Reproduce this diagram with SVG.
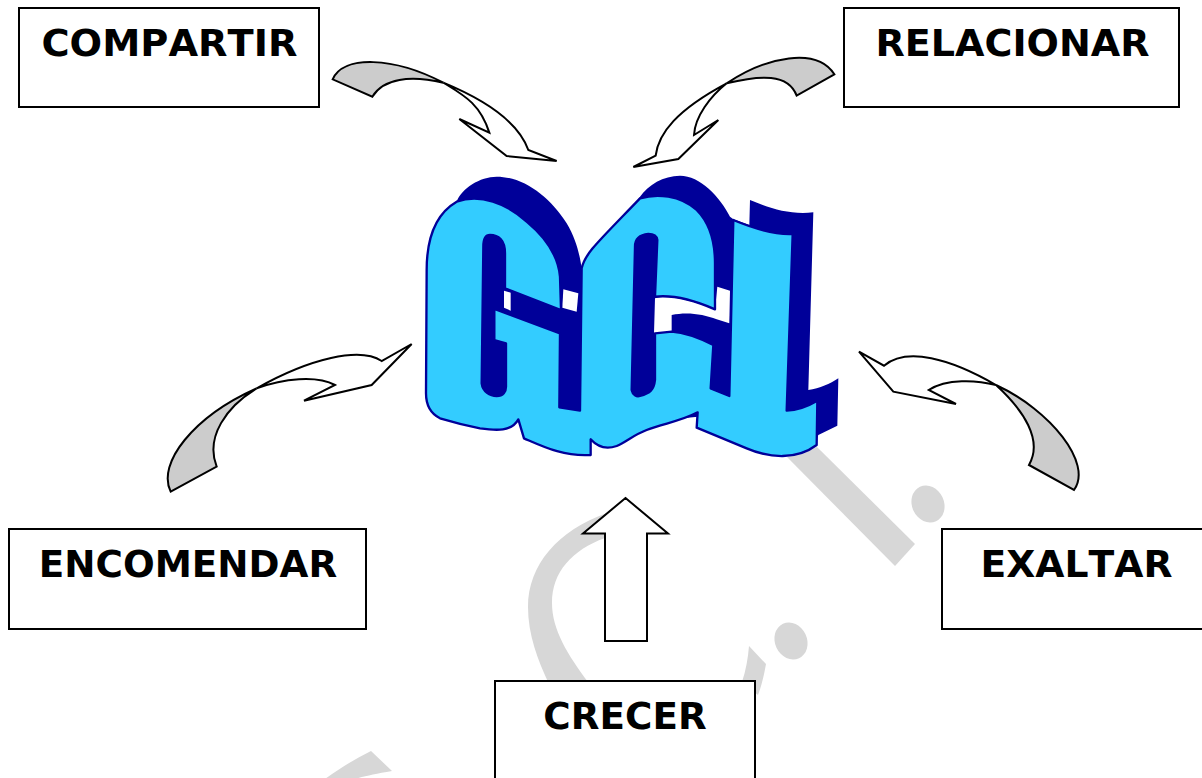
<svg xmlns="http://www.w3.org/2000/svg" width="1202" height="778" viewBox="0 0 1202 778">
<style>
.box{fill:#fff;stroke:#000;stroke-width:2}
.lbl{font-family:"DejaVu Sans",sans-serif;font-weight:700;font-size:37.33px;fill:#000;text-anchor:middle;font-kerning:none}
.wm{fill:#d7d7d7}
.tail{fill:#ccc;stroke:#000;stroke-width:6;stroke-linejoin:miter}
.head{fill:#fff;stroke:#000;stroke-width:6;stroke-linejoin:miter}
</style>
<rect width="1202" height="778" fill="#fff"/>
<g id="watermark">
<path class="wm" d="M787,457L817,447L915,544L895,566Z"/>
<ellipse class="wm" cx="928" cy="504" rx="16" ry="19" transform="rotate(-25 928 504)"/>
<ellipse class="wm" cx="791" cy="641" rx="16" ry="19" transform="rotate(-25 791 641)"/>
<path class="wm" d="M607,513C558,530 528,565 528,607C528,635 538,660 548,682L588,682C568,655 552,630 552,603C552,572 572,550 605,538Z"/>
<path class="wm" d="M749,646L766,664C764,675 762,684 758,695L742,682C746,670 748,658 749,646Z"/>
<path class="wm" d="M371,751L392,771C375,774 365,776 355,779L325,779C340,768 355,759 371,751Z"/>
</g>
<g id="gcl" transform="translate(400 160) scale(.33333)">
<path fill="#009" d="M170,125C185,85 240,50 290,50C370,50 450,110 500,190C530,240 540,290 545,325C590,240 680,170 720,110C745,75 790,47 840,47C900,47 960,110 990,170L1000,178L1048,195L1050,120C1110,145 1170,165 1240,157L1225,690C1260,685 1290,672 1315,655L1312,797L1255,825L1245,850L1000,800L893,770L700,790L540,760L230,700L230,240Z"/>
<path fill="#fff" d="M312,392L332,398L332,452L312,443Z"/>
<path fill="#fff" d="M490,388L535,400L530,455L487,443Z"/>
<path fill="#fff" d="M765,415C800,405 850,412 945,448L952,380L990,392L988,490L950,478C910,462 860,455 815,465L815,515L762,520Z"/>
<path fill="#3cf" stroke="#009" stroke-width="7" stroke-linejoin="round" d="M80,330C80,230 110,160 170,125C240,100 320,130 380,185C440,235 475,290 480,350L483,450L315,385L315,280C315,240 295,225 270,225C255,225 250,240 250,260L245,670C248,695 270,708 290,708C310,708 318,695 318,680L318,550L283,540L283,447L480,520L478,742L540,752L545,325C555,280 590,250 720,115C770,100 840,105 890,150C930,190 945,250 945,310L945,448C870,415 810,405 765,410L772,240C770,225 755,222 745,222C715,225 705,240 705,260L695,690C698,705 710,712 720,708C750,700 762,690 765,660L765,520L815,515C860,518 900,535 940,555L932,685L988,708L1000,180C1060,205 1120,225 1178,222L1160,752C1195,750 1225,738 1252,722L1250,855C1190,900 1110,895 1040,865L890,803L893,757C840,785 790,790 740,810C700,825 680,845 650,858C615,870 590,858 572,838L572,885C490,890 430,860 372,835L355,778C335,815 290,812 240,805C200,797 160,787 120,775C90,760 78,730 78,700Z"/>
</g>
<g id="connectors">
<g transform="translate(320 40) scale(.33333)">
<path class="head" d="M370,128C520,190 600,260 625,330L710,363L560,348L418,237L508,278C480,190 430,165 370,128Z"/>
<path class="tail" d="M38,118C70,45 220,50 370,128C270,105 190,115 157,170Z"/>
</g>
<g transform="translate(620 40) scale(.33333)">
<path class="head" d="M320,130C170,210 115,280 107,347L40,381L175,357L295,240L222,285C225,230 270,170 320,130Z"/>
<path class="tail" d="M643,103C590,20 440,50 320,130C420,105 505,100 530,167Z"/>
</g>
<g transform="translate(150 330) scale(.33333)">
<path class="head" d="M320,175C480,85 630,50 695,93L785,42L665,165L462,212L555,165C500,135 400,145 320,175Z"/>
<path class="tail" d="M62,485C20,400 130,260 320,175C230,230 165,320 200,410Z"/>
</g>
<g transform="translate(850 340) scale(.33333)">
<path class="head" d="M438,135C300,55 170,20 102,77L27,35L130,155L318,192L236,150C290,115 380,120 438,135Z"/>
<path class="tail" d="M672,450C730,370 600,210 438,135C520,210 580,300 537,375Z"/>
</g>
<path fill="#fff" stroke="#000" stroke-width="2" d="M625.5,498L668,533.5H647V641H605V533.5H583Z"/>
</g>
<g id="compartir"><rect class="box" x="19" y="8" width="300" height="99"/><text class="lbl" x="169.5" y="56" textLength="256" lengthAdjust="spacingAndGlyphs">COMPARTIR</text></g>
<g id="relacionar"><rect class="box" x="844" y="8" width="335" height="99"/><text class="lbl" x="1012.5" y="56" textLength="274" lengthAdjust="spacingAndGlyphs">RELACIONAR</text></g>
<g id="encomendar"><rect class="box" x="9" y="529" width="357" height="100"/><text class="lbl" x="188" y="577">ENCOMENDAR</text></g>
<g id="exaltar"><rect class="box" x="942" y="529" width="262" height="100"/><text class="lbl" x="1076.5" y="577" textLength="192" lengthAdjust="spacingAndGlyphs">EXALTAR</text></g>
<g id="crecer"><rect class="box" x="495" y="681" width="260" height="100"/><text class="lbl" x="625" y="729">CRECER</text></g>
</svg>
